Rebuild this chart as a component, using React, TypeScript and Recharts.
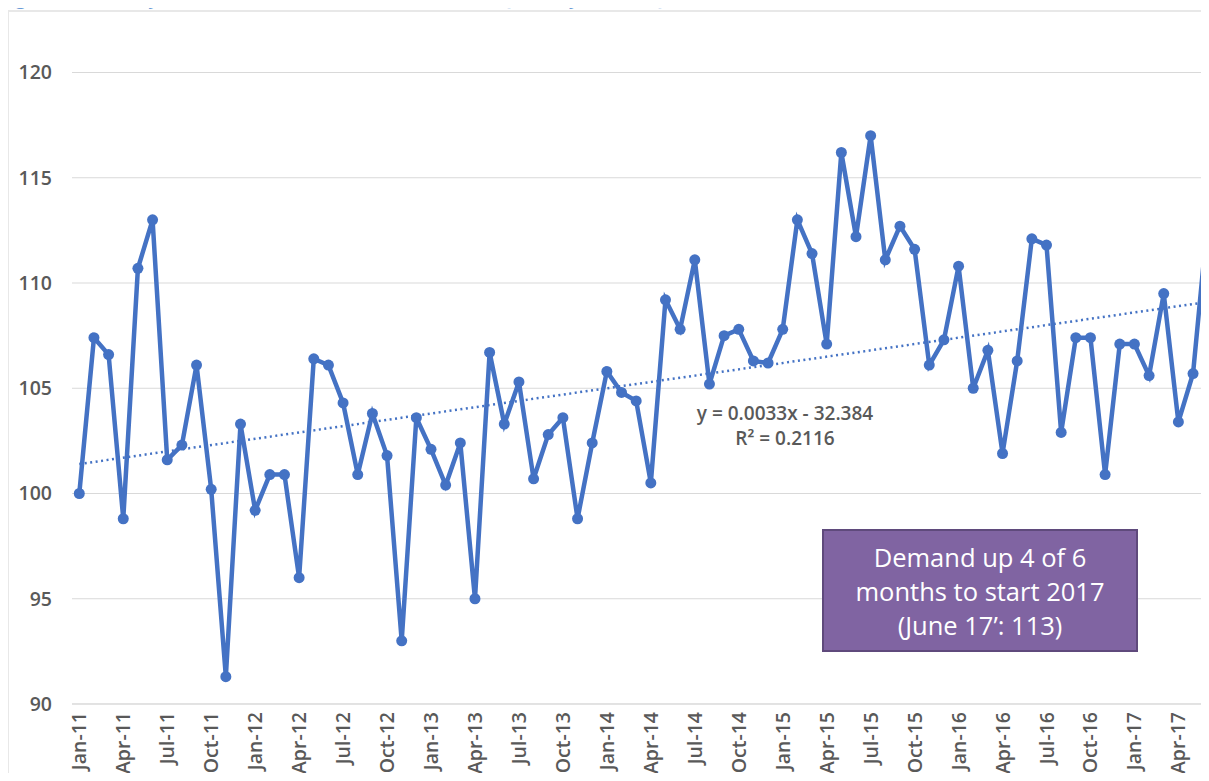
import React from 'react';
import { LineChart, Line, XAxis, YAxis, CartesianGrid, ReferenceLine } from 'recharts';

const months: string[] = [
  'Jan-11','Feb-11','Mar-11','Apr-11','May-11','Jun-11','Jul-11','Aug-11','Sep-11','Oct-11','Nov-11','Dec-11',
  'Jan-12','Feb-12','Mar-12','Apr-12','May-12','Jun-12','Jul-12','Aug-12','Sep-12','Oct-12','Nov-12','Dec-12',
  'Jan-13','Feb-13','Mar-13','Apr-13','May-13','Jun-13','Jul-13','Aug-13','Sep-13','Oct-13','Nov-13','Dec-13',
  'Jan-14','Feb-14','Mar-14','Apr-14','May-14','Jun-14','Jul-14','Aug-14','Sep-14','Oct-14','Nov-14','Dec-14',
  'Jan-15','Feb-15','Mar-15','Apr-15','May-15','Jun-15','Jul-15','Aug-15','Sep-15','Oct-15','Nov-15','Dec-15',
  'Jan-16','Feb-16','Mar-16','Apr-16','May-16','Jun-16','Jul-16','Aug-16','Sep-16','Oct-16','Nov-16','Dec-16',
  'Jan-17','Feb-17','Mar-17','Apr-17','May-17','Jun-17',
];

const demandIndex: number[] = [
  100.0, 107.4, 106.6, 98.8, 110.7, 113.0, 101.6, 102.3, 106.1, 100.2, 91.3, 103.3,
  99.2, 100.9, 100.9, 96.0, 106.4, 106.1, 104.3, 100.9, 103.8, 101.8, 93.0, 103.6,
  102.1, 100.4, 102.4, 95.0, 106.7, 103.3, 105.3, 100.7, 102.8, 103.6, 98.8, 102.4,
  105.8, 104.8, 104.4, 100.5, 109.2, 107.8, 111.1, 105.2, 107.5, 107.8, 106.3, 106.2,
  107.8, 113.0, 111.4, 107.1, 116.2, 112.2, 117.0, 111.1, 112.7, 111.6, 106.1, 107.3,
  110.8, 105.0, 106.8, 101.9, 106.3, 112.1, 111.8, 102.9, 107.4, 107.4, 100.9, 107.1,
  107.1, 105.6, 109.5, 103.4, 105.7, 113.0,
];

const yTicks: number[] = [90, 95, 100, 105, 110, 115, 120];

// Linear trendline end values (from y = 0.0033x - 32.384)
const trendStart = { x: 'Jan-11', y: 101.4 };
const trendEnd = { x: 'Jun-17', y: 109.1 };

const titleText = 'Figure 1: Grocery Store, US State-Level Demand Index: January 2011 to June 2017';
const equationText = 'y = 0.0033x - 32.384';
const rSquaredText = 'R² = 0.2116';
const calloutLines: string[] = ['Demand up 4 of 6', 'months to start 2017', '(June 17’: 113)'];

const data = months.map((m, i) => ({ month: m, value: demandIndex[i] }));

const FONT = '"Open Sans", "Liberation Sans", sans-serif';
const TEXT_GREY = '#595959';
const BLUE = '#4472C4';

const XTick = (props: any) => {
  const { x, y, payload } = props;
  return (
    <text
      x={x}
      y={y}
      transform={`rotate(-90, ${x}, ${y})`}
      textAnchor="end"
      dy="0.36em"
      fill={TEXT_GREY}
      style={{ fontFamily: FONT, fontSize: 19.5, fontWeight: 600 }}
    >
      {payload.value}
    </text>
  );
};

export default function App() {
  return (
    <div
      style={{
        position: 'relative',
        margin: -8,
        width: 1209,
        height: 781,
        overflow: 'hidden',
        background: '#ffffff',
        fontFamily: FONT,
      }}
    >
      <div
        style={{
          position: 'absolute',
          left: 0,
          top: -15,
          fontSize: 20,
          lineHeight: '24px',
          color: '#6a9bd6',
          whiteSpace: 'nowrap',
        }}
      >
        {titleText}
      </div>
      <div
        style={{
          position: 'absolute',
          left: 7,
          top: 10,
          width: 1300,
          height: 900,
          border: '2px solid #e8e8e8',
        }}
      />
      <div style={{ position: 'absolute', left: 0, top: 0 }}>
        <LineChart
          width={1215}
          height={820}
          data={data}
          margin={{ top: 72.5, right: 0, left: 0, bottom: 0 }}
        >
          <CartesianGrid vertical={false} stroke="#d9d9d9" strokeWidth={1} />
          <XAxis
            dataKey="month"
            interval={2}
            height={116}
            padding={{ left: 7.3, right: 7.3 }}
            tickLine={false}
            axisLine={{ stroke: '#d9d9d9' }}
            tickSize={0}
            tickMargin={8}
            tick={<XTick />}
          />
          <YAxis
            domain={[90, 120]}
            ticks={yTicks}
            width={72}
            tickLine={false}
            axisLine={false}
            tickSize={0}
            tickMargin={20}
            tick={{ fill: TEXT_GREY, fontSize: 19.5, fontWeight: 600, fontFamily: FONT }}
          />
          <ReferenceLine
            segment={[trendStart, trendEnd]}
            stroke={BLUE}
            strokeWidth={2.5}
            strokeDasharray="2 3.5"
            ifOverflow="visible"
          />
          <Line
            type="linear"
            dataKey="value"
            stroke={BLUE}
            strokeWidth={4.5}
            dot={{ r: 5.5, fill: BLUE, stroke: BLUE, strokeWidth: 0 }}
            activeDot={false}
            isAnimationActive={false}
          />
        </LineChart>
      </div>
      <div
        style={{
          position: 'absolute',
          left: 665,
          top: 401,
          width: 240,
          textAlign: 'center',
          fontSize: 19,
          lineHeight: '25px',
          fontWeight: 600,
          color: TEXT_GREY,
          whiteSpace: 'nowrap',
        }}
      >
        <div>{equationText}</div>
        <div>{rSquaredText}</div>
      </div>
      <div
        style={{
          position: 'absolute',
          left: 822,
          top: 529,
          width: 316,
          height: 123,
          boxSizing: 'border-box',
          background: '#8064A2',
          border: '2px solid #5f4a7c',
          color: '#ffffff',
          display: 'flex',
          flexDirection: 'column',
          justifyContent: 'center',
          alignItems: 'center',
          fontSize: 25.5,
          lineHeight: '34px',
          textAlign: 'center',
          whiteSpace: 'nowrap',
        }}
      >
        {calloutLines.map((l) => (
          <div key={l}>{l}</div>
        ))}
      </div>
    </div>
  );
}
